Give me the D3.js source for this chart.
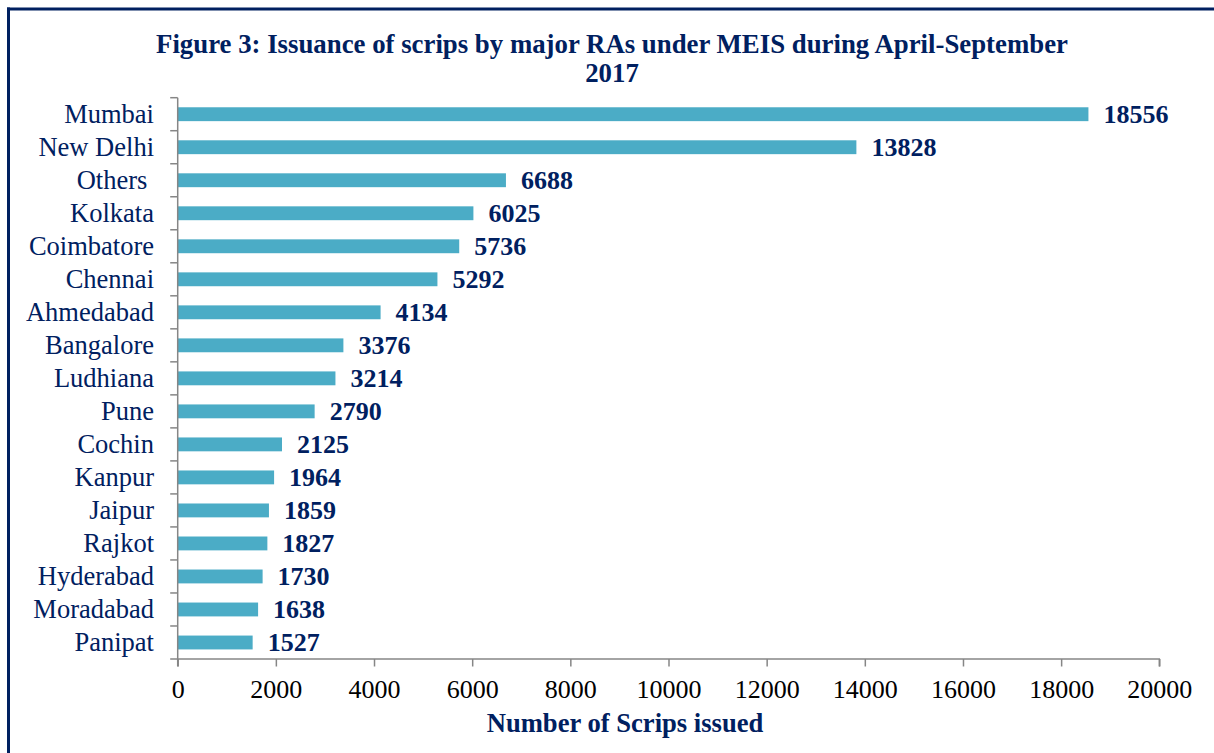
<!DOCTYPE html>
<html><head><meta charset="utf-8">
<script src="https://d3js.org/d3.v7.min.js"></script>
<style>
html,body{margin:0;padding:0;background:#fff;}
svg{display:block;}
text{font-family:"Liberation Serif","Times New Roman",serif;}
</style></head>
<body>
<script>
const categories = ["Mumbai","New Delhi","Others ","Kolkata","Coimbatore","Chennai","Ahmedabad","Bangalore","Ludhiana","Pune","Cochin","Kanpur","Jaipur","Rajkot","Hyderabad","Moradabad","Panipat"];
const values = [18556,13828,6688,6025,5736,5292,4134,3376,3214,2790,2125,1964,1859,1827,1730,1638,1527];
const xTicks = [0,2000,4000,6000,8000,10000,12000,14000,16000,18000,20000];
const titleLines = ["Figure 3: Issuance of scrips by major RAs under MEIS during April-September","2017"];
const xTitle = "Number of Scrips issued";

(function(){
const W = 1214, H = 753;
const navy = "#002060", barColor = "#4BACC6", axisColor = "#868686";
const svg = d3.select("body").append("svg").attr("width", W).attr("height", H);

// frame border
svg.append("line").attr("x1",7).attr("x2",W).attr("y1",9).attr("y2",9).attr("stroke",navy).attr("stroke-width",3);
svg.append("line").attr("x1",8.5).attr("x2",8.5).attr("y1",7.5).attr("y2",H).attr("stroke",navy).attr("stroke-width",3);

const pl = 177.7, pr = 1159.3, pt = 97.7, pb = 659;
const x = d3.scaleLinear().domain([0,20000]).range([pl,pr]);
const y = d3.scaleBand().domain(categories).range([pt,pb]).paddingInner(0.58).paddingOuter(0.29);

// title
svg.append("text").attr("x",612).attr("y",53).attr("text-anchor","middle")
  .attr("font-size",26.8).attr("font-weight","bold").attr("fill",navy).text(titleLines[0]);
svg.append("text").attr("x",612).attr("y",82).attr("text-anchor","middle")
  .attr("font-size",26.8).attr("font-weight","bold").attr("fill",navy).text(titleLines[1]);

// bars
svg.append("g").selectAll("rect").data(values).join("rect")
  .attr("x", x(0)).attr("y",(d,i)=>y(categories[i]))
  .attr("width", d=>x(d)-x(0)).attr("height", y.bandwidth())
  .attr("fill", barColor);

// value labels
svg.append("g").selectAll("text").data(values).join("text")
  .attr("x", d=>x(d)+15).attr("y",(d,i)=>y(categories[i])+y.bandwidth()/2+9)
  .attr("font-size",26).attr("font-weight","bold").attr("fill",navy).text(d=>d);

// y axis
const yEdge = d3.scaleLinear().domain([0,categories.length]).range([pt,pb]);
const gy = svg.append("g");
gy.append("line").attr("x1",pl).attr("x2",pl).attr("y1",pt).attr("y2",pb).attr("stroke",axisColor).attr("stroke-width",1.5);
gy.selectAll("line.tk").data(d3.range(categories.length+1)).join("line").attr("class","tk")
  .attr("x1",pl-7.5).attr("x2",pl).attr("y1",d=>yEdge(d)).attr("y2",d=>yEdge(d))
  .attr("stroke",axisColor).attr("stroke-width",1.5);
gy.selectAll("text").data(categories).join("text")
  .attr("x",154).attr("y",d=>y(d)+y.bandwidth()/2+8.5).attr("text-anchor","end")
  .attr("xml:space","preserve").style("white-space","pre")
  .attr("font-size",26.5).attr("fill",navy).text(d=>d);

// x axis
const gx = svg.append("g").attr("transform",`translate(0,${pb})`)
  .call(d3.axisBottom(x).tickValues(xTicks).tickFormat(d3.format("d")).tickSize(7.5).tickPadding(13));
gx.select(".domain").attr("stroke",axisColor).attr("stroke-width",1.5).attr("d",`M${pl},7.5V0H${pr}V7.5`);
gx.selectAll(".tick line").attr("stroke",axisColor).attr("stroke-width",1.5);
gx.selectAll(".tick text").attr("font-family","Liberation Serif").attr("font-size",26).attr("fill","#000");

// x title
svg.append("text").attr("x",625).attr("y",732).attr("text-anchor","middle")
  .attr("font-size",26.6).attr("font-weight","bold").attr("fill",navy).text(xTitle);
})();
</script>
</body></html>
